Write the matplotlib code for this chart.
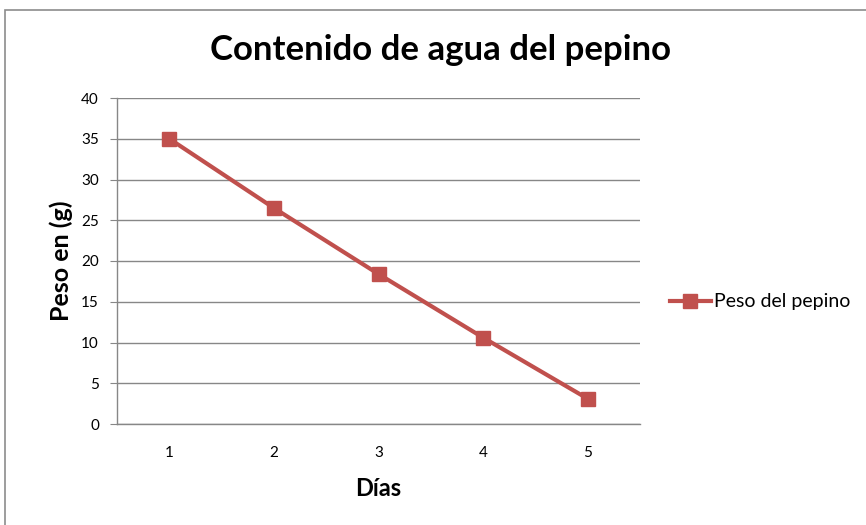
import matplotlib.pyplot as plt
from matplotlib.patches import Rectangle

# Datos del ensayo
dias = [1, 2, 3, 4, 5]
peso = [35, 26.5, 18.4, 10.6, 3.1]
serie = "Peso del pepino"

plt.rcParams['font.family'] = ['Lato', 'DejaVu Sans']

fig = plt.figure(figsize=(8.66, 5.25), dpi=100)
ax = fig.add_axes([117 / 866, 1 - 424 / 525, (640 - 117) / 866, (424 - 98) / 525])

rojo = '#C0504D'
gris = '#878787'

ax.plot(dias, peso, color=rojo, lw=3, marker='s', markersize=10,
        markeredgecolor=rojo, label=serie, zorder=3)

ax.set_xlim(0.5, 5.5)
ax.set_ylim(0, 40)
ax.set_yticks(range(0, 41, 5))
ax.set_xticks(dias)
ax.yaxis.grid(True, color=gris, lw=1)
ax.set_axisbelow(True)

for s in ['top', 'right']:
    ax.spines[s].set_visible(False)
for s in ['left', 'bottom']:
    ax.spines[s].set_color(gris)
    ax.spines[s].set_linewidth(1)

ax.tick_params(axis='y', length=5, color=gris, labelsize=11, pad=8)
ax.tick_params(axis='x', length=0, labelsize=11, pad=16)

ax.set_ylabel("Peso en (g)", fontsize=18, fontweight='bold', labelpad=6)
ax.set_xlabel("Días", fontsize=17, fontweight='bold', labelpad=12)
fig.text(441 / 866, 1 - 50 / 525, "Contenido de agua del pepino",
         fontsize=25, fontweight='bold', ha='center', va='center')

fig.legend(loc='center left', bbox_to_anchor=(670 / 866, 1 - 302 / 525),
           frameon=False, fontsize=14, handlelength=2.1, handletextpad=0.15,
           borderpad=0, borderaxespad=0)

# marco del gráfico
fig.patches.append(Rectangle((5 / 866, -0.05), 1.1, 1 - 10 / 525 + 0.05,
                             transform=fig.transFigure, fill=False,
                             edgecolor='#8c8c8c', lw=1.2))

fig.savefig("out.png", dpi=100)
